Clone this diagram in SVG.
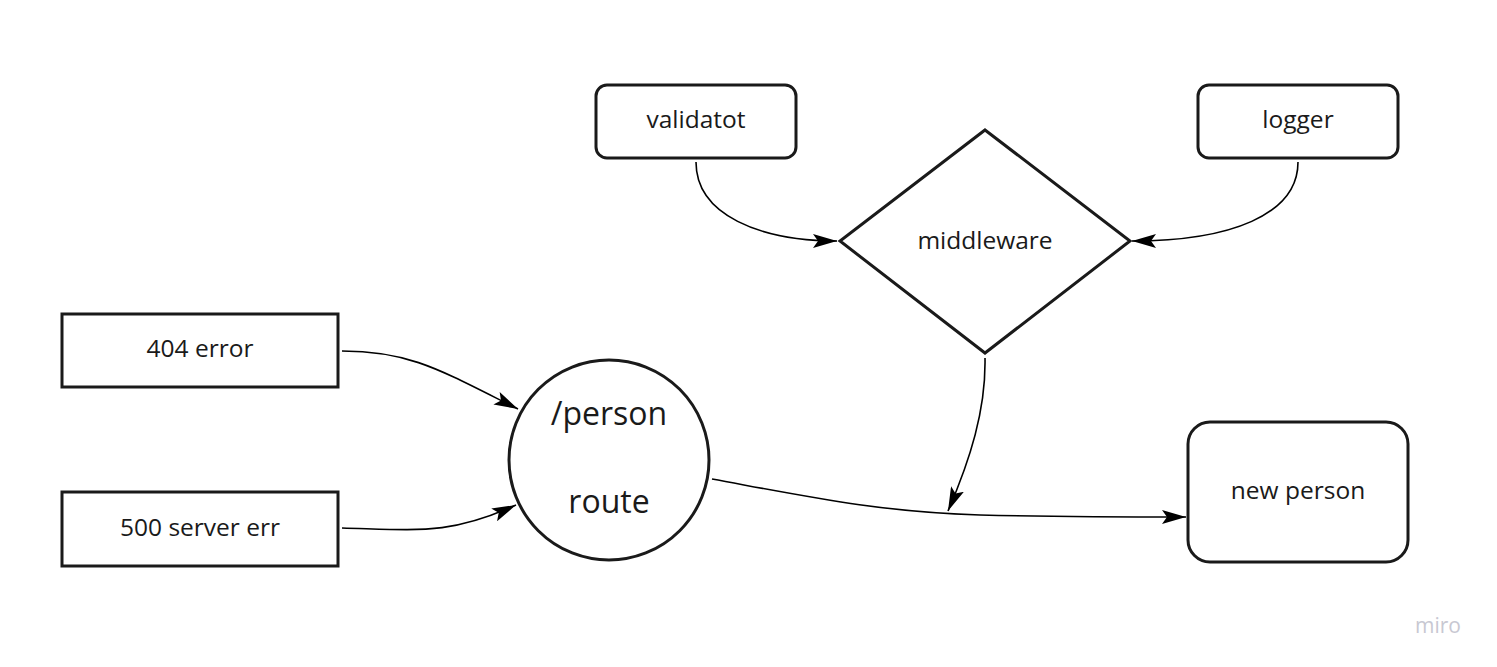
<svg xmlns="http://www.w3.org/2000/svg" width="1497" height="667" viewBox="0 0 1497 667">
<style>
.shape{fill:#fff;stroke:#1a1a1a;stroke-width:3}
.lbl{font-family:"Open Sans","Liberation Sans",sans-serif;font-size:24.5px;fill:#1a1a1a;text-anchor:middle;dominant-baseline:central}
.big{font-size:32px}
.conn{fill:none;stroke:#000;stroke-width:1.6;marker-end:url(#arr)}
</style>
<defs>
<marker id="arr" viewBox="0 0 24 14" refX="24" refY="7" markerWidth="24" markerHeight="14" markerUnits="userSpaceOnUse" orient="auto">
<path d="M0,0 L24,7 L0,14 L5,7 Z" fill="#000"/>
</marker>
</defs>
<rect width="1497" height="667" fill="#fff"/>
<g id="connectors">
<path class="conn" d="M696,162 C696,215 760,241 837,241"/>
<path class="conn" d="M1298,162 C1298,215 1230,241 1132,241"/>
<path class="conn" d="M342,351 C410,351 440,370 518,409"/>
<path class="conn" d="M342,528 C420,530 450,535 516,505"/>
<path class="conn" d="M712,479 C810,497 880,512 980,515 C1060,517 1120,517 1186,517"/>
<path class="conn" d="M985,358 C986,410 970,460 948,511"/>
</g>
<g id="validatot">
<rect class="shape" x="596" y="85" width="200" height="73" rx="11"/>
<text class="lbl" x="696" y="118">validatot</text>
</g>
<g id="logger">
<rect class="shape" x="1198" y="85" width="200" height="73" rx="11"/>
<text class="lbl" x="1298" y="118">logger</text>
</g>
<g id="middleware">
<polygon class="shape" points="985,130 1130,241 985,353 840,241"/>
<text class="lbl" x="985" y="239">middleware</text>
</g>
<g id="err404">
<rect class="shape" x="62" y="314" width="276" height="73"/>
<text class="lbl" x="200" y="347">404 error</text>
</g>
<g id="err500">
<rect class="shape" x="62" y="492" width="276" height="74"/>
<text class="lbl" x="200" y="526">500 server err</text>
</g>
<g id="route">
<circle class="shape" cx="609" cy="460" r="100"/>
<text class="lbl big" x="609" y="412">/person</text>
<text class="lbl big" x="609" y="500">route</text>
</g>
<g id="newperson">
<rect class="shape" x="1188" y="422" width="220" height="140" rx="22"/>
<text class="lbl" x="1298" y="489">new person</text>
</g>
<text x="1438" y="625" font-family="'Open Sans','Liberation Sans',sans-serif" font-size="21" fill="#c8c8d2" text-anchor="middle" dominant-baseline="central">miro</text>
</svg>
